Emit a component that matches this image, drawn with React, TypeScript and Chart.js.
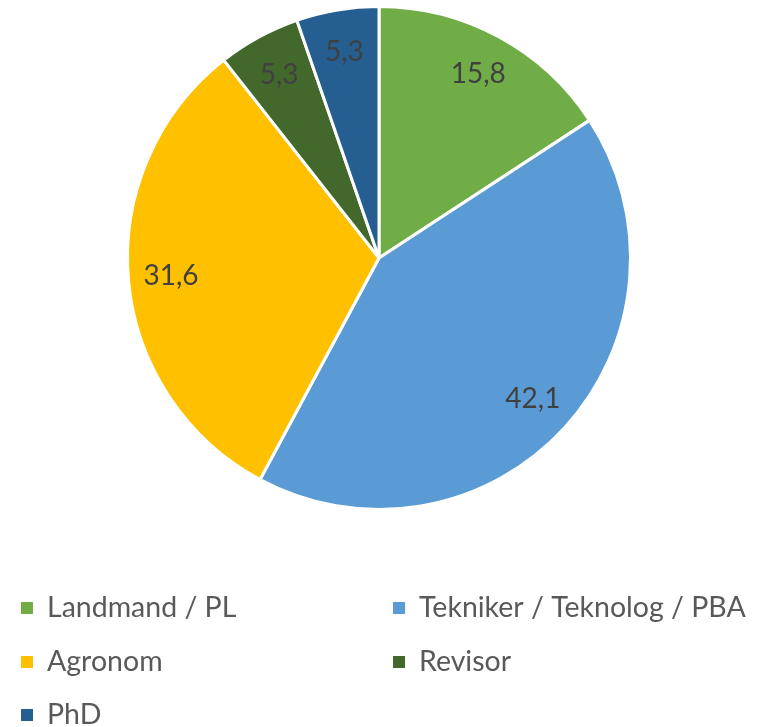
import React, { useEffect, useRef } from "react";
import { Chart, registerables } from "chart.js";
Chart.register(...registerables);

const categories = ["Landmand / PL", "Tekniker / Teknolog / PBA", "Agronom", "Revisor", "PhD"];
const values = [15.8, 42.1, 31.6, 5.3, 5.3];
const colors = ["#70AD47", "#5B9BD5", "#FFC000", "#43682B", "#255E91"];

const FONT = "Lato, 'Open Sans', sans-serif";

const labelPlugin = {
  id: "sliceLabels",
  afterDatasetsDraw(chart: any) {
    const ctx = chart.ctx;
    const meta = chart.getDatasetMeta(0);
    ctx.save();
    ctx.font = `28px ${FONT}`;
    ctx.fillStyle = "#404040";
    ctx.textAlign = "center";
    ctx.textBaseline = "middle";
    meta.data.forEach((arc: any, i: number) => {
      const mid = (arc.startAngle + arc.endAngle) / 2;
      const r = arc.outerRadius * 0.83;
      const x = arc.x + Math.cos(mid) * r;
      const y = arc.y + Math.sin(mid) * r;
      ctx.fillText(String(values[i]).replace(".", ","), x, y);
    });
    ctx.restore();
  },
};

const legendPlugin = {
  id: "gridLegend",
  afterDraw(chart: any) {
    const ctx = chart.ctx;
    ctx.save();
    ctx.font = `28.5px ${FONT}`;
    ctx.textBaseline = "middle";
    ctx.textAlign = "left";
    const colX = [21, 393];
    const rowY = [608, 662, 715];
    categories.forEach((c, i) => {
      const x = colX[i % 2];
      const y = rowY[Math.floor(i / 2)];
      ctx.fillStyle = colors[i];
      ctx.fillRect(x, y - 6, 12, 12);
      ctx.fillStyle = "#595959";
      ctx.fillText(c, x + 26, y);
    });
    ctx.restore();
  },
};

export default function App() {
  const ref = useRef<HTMLCanvasElement>(null);
  useEffect(() => {
    if (!ref.current) return;
    const chart = new Chart(ref.current, {
      type: "pie",
      data: {
        labels: categories,
        datasets: [
          {
            data: values,
            backgroundColor: colors,
            borderColor: "#FFFFFF",
            borderWidth: 3,
          },
        ],
      },
      options: {
        animation: false,
        responsive: false,
        layout: { padding: { left: 126, right: 137, top: 5, bottom: 216 } },
        plugins: {
          legend: { display: false },
          tooltip: { enabled: false },
        },
      },
      plugins: [labelPlugin, legendPlugin],
    });
    return () => chart.destroy();
  }, []);
  return (
    <canvas
      ref={ref}
      width={769}
      height={727}
      style={{ position: "fixed", left: 0, top: 0, width: 769, height: 727 }}
    />
  );
}
